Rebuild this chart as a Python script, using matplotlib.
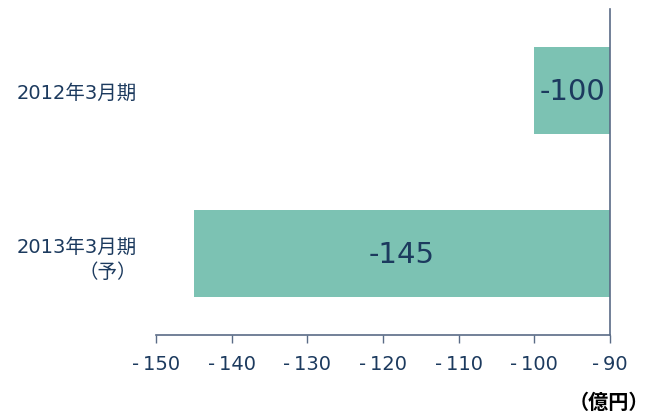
import matplotlib.pyplot as plt

# Data
categories = ["2012年3月期", "2013年3月期\n（予）"]
values = [-100, -145]
x_ticks = [-150, -140, -130, -120, -110, -100, -90]
unit_label = "（億円）"

BAR_COLOR = "#7cc2b3"
TEXT_COLOR = "#1c3a5e"
AXIS_COLOR = "#5a6b86"
CJK = ["Noto Sans CJK JP", "DejaVu Sans"]

plt.rcParams["font.family"] = ["DejaVu Sans", "Noto Sans CJK JP"]

fig = plt.figure(figsize=(6.51, 4.14), dpi=100, facecolor="white")
ax = fig.add_axes([0.2396, 0.1884, 0.6974, 0.7874])

ypos = list(range(len(categories)))
ax.barh(ypos, [v - (-90) for v in values], left=-90, height=0.535,
        color=BAR_COLOR, edgecolor="none")

for y, v in zip(ypos, values):
    ax.text((v + -90) / 2, y, f"{v}", ha="center", va="center",
            fontsize=21, color=TEXT_COLOR)

ax.set_xlim(-150, -90)
ax.set_ylim(1.5, -0.5)
ax.set_xticks(x_ticks)
ax.set_xticklabels([str(t).replace("-", "-\u2009") for t in x_ticks],
                   fontsize=14, color=TEXT_COLOR)
ax.set_yticks(ypos)
ax.set_yticklabels(categories, fontsize=14, color=TEXT_COLOR,
                   multialignment="right", linespacing=1.45)
ax.tick_params(axis="y", length=0, pad=14)
ax.tick_params(axis="x", length=6, width=1, color=AXIS_COLOR, pad=8)

for side in ["top", "left"]:
    ax.spines[side].set_visible(False)
for side in ["bottom", "right"]:
    ax.spines[side].set_color(AXIS_COLOR)
    ax.spines[side].set_linewidth(1.2)

fig.text(0.935, 0.029, unit_label, ha="center", va="center", fontsize=14.5,
         fontweight="bold", fontstyle="italic", color="black", family=CJK)

fig.savefig("out.png", dpi=100, facecolor="white")
